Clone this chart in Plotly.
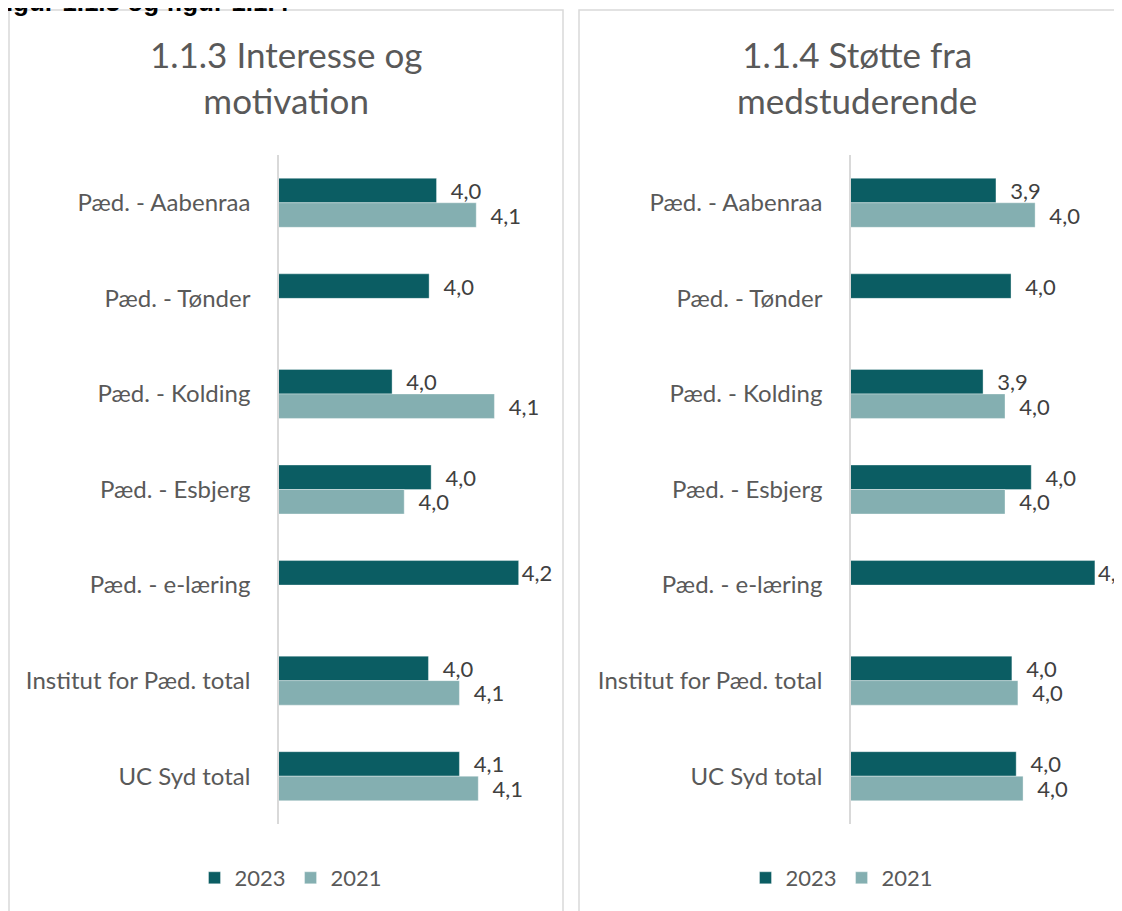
import plotly.graph_objects as go

OFF = 8  # page body margin
W, H = 1122 - OFF, 911 - OFF

categories = ["Pæd. - Aabenraa", "Pæd. - Tønder", "Pæd. - Kolding", "Pæd. - Esbjerg",
              "Pæd. - e-læring", "Institut for Pæd. total", "UC Syd total"]
series_names = ["2023", "2021"]

# 1.1.3 Interesse og motivation
left_2023 = [4.034, 4.023, 3.968, 4.026, 4.156, 4.022, 4.068]
left_2021 = [4.093, None, 4.120, 3.986, None, 4.068, 4.096]
# 1.1.4 Støtte fra medstuderende
right_2023 = [3.937, 3.972, 3.907, 4.019, 4.167, 3.974, 3.984]
right_2021 = [4.028, None, 3.958, 3.958, None, 3.988, 4.000]

titles = ["1.1.3 Interesse og<br>motivation", "1.1.4 Støtte fra<br>medstuderende"]
fig_caption = "Figur 1.1.3 og figur 1.1.4"

C_DARK = "#0B5D63"
C_LIGHT = "#84AFB1"
TXT = "#595959"
LBL = "#404040"
FONT = "Lato"


def px(x):
    return (x - OFF) / W


def py(y):
    return 1 - (y - OFF) / H


def fmt(vals):
    out = []
    for i, v in enumerate(vals):
        if v is None:
            out.append("")
            continue
        pad = "" if categories[i] == "Pæd. - e-læring" else "\u00a0\u00a0"
        out.append(pad + f"{v:.1f}".replace(".", ","))
    return out


fig = go.Figure()

panels = [
    dict(xa="x", ya="y", legend="legend", vals=[left_2023, left_2021]),
    dict(xa="x2", ya="y2", legend="legend2", vals=[right_2023, right_2021]),
]
colors = [C_DARK, C_LIGHT]

for p in panels:
    for name, vals, col in zip(series_names, p["vals"], colors):
        fig.add_trace(go.Bar(
            y=categories, x=vals, name=name, orientation="h",
            marker=dict(color=col, line=dict(width=0.6, color="rgba(255,255,255,0.6)")),
            text=fmt(vals), textposition="outside", cliponaxis=False,
            constraintext="none",
            textfont=dict(family=FONT, size=22, color=LBL),
            xaxis=p["xa"], yaxis=p["ya"], legend=p["legend"],
        ))

ydom = [py(824), py(155)]
yax_common = dict(range=[6.5, -0.5], type="category",
                  showline=True, linecolor="#D9D9D9", linewidth=1.5, showgrid=False,
                  ticks="", ticklabelstandoff=22,
                  tickfont=dict(family=FONT, size=24, color=TXT))
fig.update_layout(
    width=W, height=H,
    margin=dict(l=0, r=0, t=0, b=0),
    paper_bgcolor="white", plot_bgcolor="white",
    barmode="group", bargap=0.487, bargroupgap=0,
    font=dict(family=FONT, color=TXT),
    showlegend=True,
    xaxis=dict(domain=[px(279), px(555)], range=[3.8, 4.21], visible=False, fixedrange=True),
    xaxis2=dict(domain=[px(851), px(1122)], range=[3.6, 4.23], visible=False, fixedrange=True),
    yaxis=dict(domain=ydom, anchor="x", **yax_common),
    yaxis2=dict(domain=ydom, anchor="x2", **yax_common),
    legend=dict(orientation="h", x=px(291), xanchor="center", y=py(878), yanchor="middle",
                font=dict(family=FONT, size=22, color=TXT), traceorder="normal",
                bgcolor="rgba(0,0,0,0)"),
    legend2=dict(orientation="h", x=px(842), xanchor="center", y=py(878), yanchor="middle",
                 font=dict(family=FONT, size=22, color=TXT), traceorder="normal",
                 bgcolor="rgba(0,0,0,0)"),
)

# panel borders
fig.add_shape(type="rect", xref="paper", yref="paper", x0=px(9), x1=px(563), y0=py(940), y1=py(10),
              line=dict(color="#D9D9D9", width=1.5), fillcolor="rgba(0,0,0,0)", layer="below")
fig.add_shape(type="rect", xref="paper", yref="paper", x0=px(579), x1=px(1150), y0=py(940), y1=py(10),
              line=dict(color="#D9D9D9", width=1.5), fillcolor="rgba(0,0,0,0)", layer="below")

# panel titles
for t, cx in zip(titles, [286, 857]):
    fig.add_annotation(text=t, xref="paper", yref="paper", x=px(cx), y=py(77), xanchor="center",
                       yanchor="middle", showarrow=False, align="center",
                       font=dict(family=FONT, size=35, color=TXT))

# caption (cut off at top)
fig.add_annotation(text="<b>" + fig_caption + "</b>", xref="paper", yref="paper", x=px(-12), y=py(19),
                   xanchor="left", yanchor="bottom", showarrow=False,
                   font=dict(family="Liberation Sans", size=26, color="black"))

fig.write_html("out.html")
